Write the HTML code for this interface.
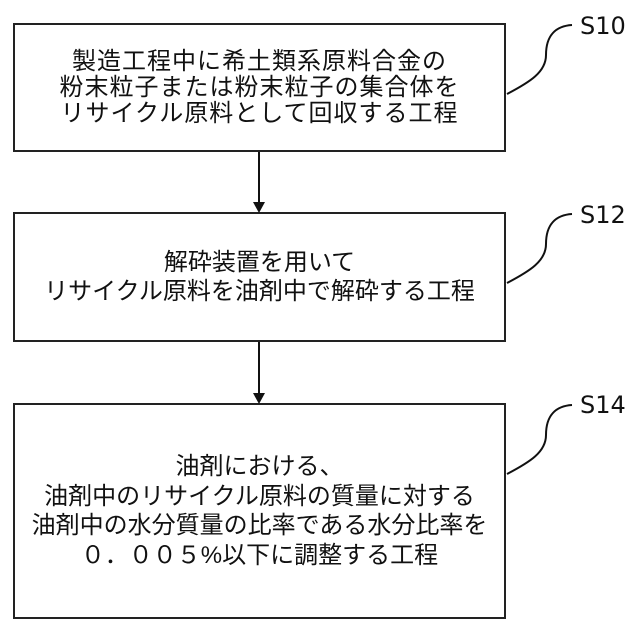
<!DOCTYPE html>
<html><head><meta charset="utf-8"><style>
body{margin:0;width:640px;height:640px;background:#fff;overflow:hidden;position:relative;font-family:"Liberation Sans","Noto Sans CJK JP",sans-serif;}
.b{position:absolute;left:13px;width:493px;border:2px solid #222;box-sizing:border-box;display:flex;align-items:center;justify-content:center;text-align:center;font-size:24px;color:#111;}
.l{position:absolute;font-size:24px;color:#111;font-family:"DejaVu Sans","Liberation Sans",sans-serif;}
</style></head><body>
<div class="b" style="top:23px;height:129px;line-height:26px;letter-spacing:1px;">製造工程中に希土類系原料合金の<br>粉末粒子または粉末粒子の集合体を<br>リサイクル原料として回収する工程</div>
<div class="b" style="top:212px;height:130px;line-height:29px;">解砕装置を用いて<br>リサイクル原料を油剤中で解砕する工程</div>
<div class="b" style="top:403px;height:216px;line-height:29.5px;">油剤における、<br>油剤中のリサイクル原料の質量に対する<br>油剤中の水分質量の比率である水分比率を<br>０．００５%以下に調整する工程</div>
<svg width="640" height="640" style="position:absolute;left:0;top:0">
<g stroke="#111" stroke-width="2" fill="none">
<line x1="259" y1="152" x2="259" y2="204"/>
<line x1="259" y1="342" x2="259" y2="395"/>
<path d="M507 94 C530 82,546 72,546 55 C546 35,556 26,572 25"/>
<path d="M507 283 C530 271,546 261,546 244 C546 224,556 215,572 214"/>
<path d="M507 474 C530 462,546 452,546 435 C546 415,556 406,572 405"/>
</g>
<polygon points="253,202 265,202 259,213" fill="#111"/>
<polygon points="253,393 265,393 259,404" fill="#111"/>
</svg>
<div class="l" style="left:580px;top:12px;">S10</div>
<div class="l" style="left:580px;top:201px;">S12</div>
<div class="l" style="left:580px;top:391px;">S14</div>
</body></html>
